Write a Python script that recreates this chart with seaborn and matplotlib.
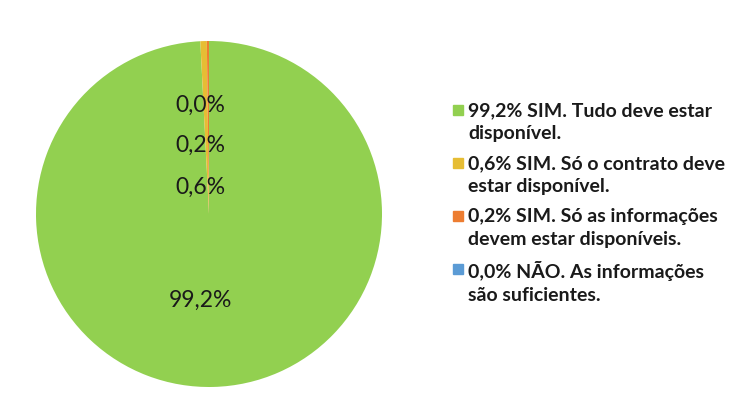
import matplotlib
matplotlib.use("Agg")
import matplotlib.pyplot as plt
import seaborn as sns
from matplotlib.patches import Rectangle

categories = ["SIM. Tudo deve estar\ndisponível.",
              "SIM. Só o contrato deve\nestar disponível.",
              "SIM. Só as informações\ndevem estar disponíveis.",
              "NÃO. As informações\nsão suficientes."]
values = [99.2, 0.6, 0.2, 0.0]
pct_labels = ["99,2%", "0,6%", "0,2%", "0,0%"]
colors = ["#92D050", "#E6BD34", "#ED7D31", "#5B9BD5"]

sns.set_theme(style="white")
plt.rcParams['font.family'] = ['Lato', 'DejaVu Sans']
palette = sns.color_palette(colors)

fig = plt.figure(figsize=(7.46, 3.98), dpi=100)
W, H = 746, 398
cx, cy, r = 209, 214, 173
ax = fig.add_axes([(cx - r) / W, (H - cy - r) / H, 2 * r / W, 2 * r / H])
ax.pie(values, colors=palette, startangle=90, counterclock=False,
       wedgeprops=dict(linewidth=0), radius=1)
ax.set_xlim(-1, 1)
ax.set_ylim(-1, 1)
ax.set_aspect("equal")
ax.axis("off")

# data label positions (pixel y of label centers)
label_y = [300, 187, 145, 105]
for lab, py in zip(pct_labels, label_y):
    ax.text((200 - cx) / r, (cy - py) / r, lab, ha="center", va="center",
            fontsize=16.5, color="#1a1a1a")

# legend, drawn manually so the marker sits on the first line
entry_y = [110, 163, 216, 269]
for cat, v, lab, col, py in zip(categories, values, pct_labels, palette, entry_y):
    fig.patches.append(Rectangle((453 / W, (H - py - 5) / H), 10 / W, 10 / H,
                                 transform=fig.transFigure, color=col, figure=fig))
    fig.text(468 / W, (H - py + 8) / H, f"{lab} {cat}", ha="left", va="top",
             fontsize=14, fontweight="bold", color="#1a1a1a", linespacing=1.4)

fig.savefig("out.png", dpi=100)
